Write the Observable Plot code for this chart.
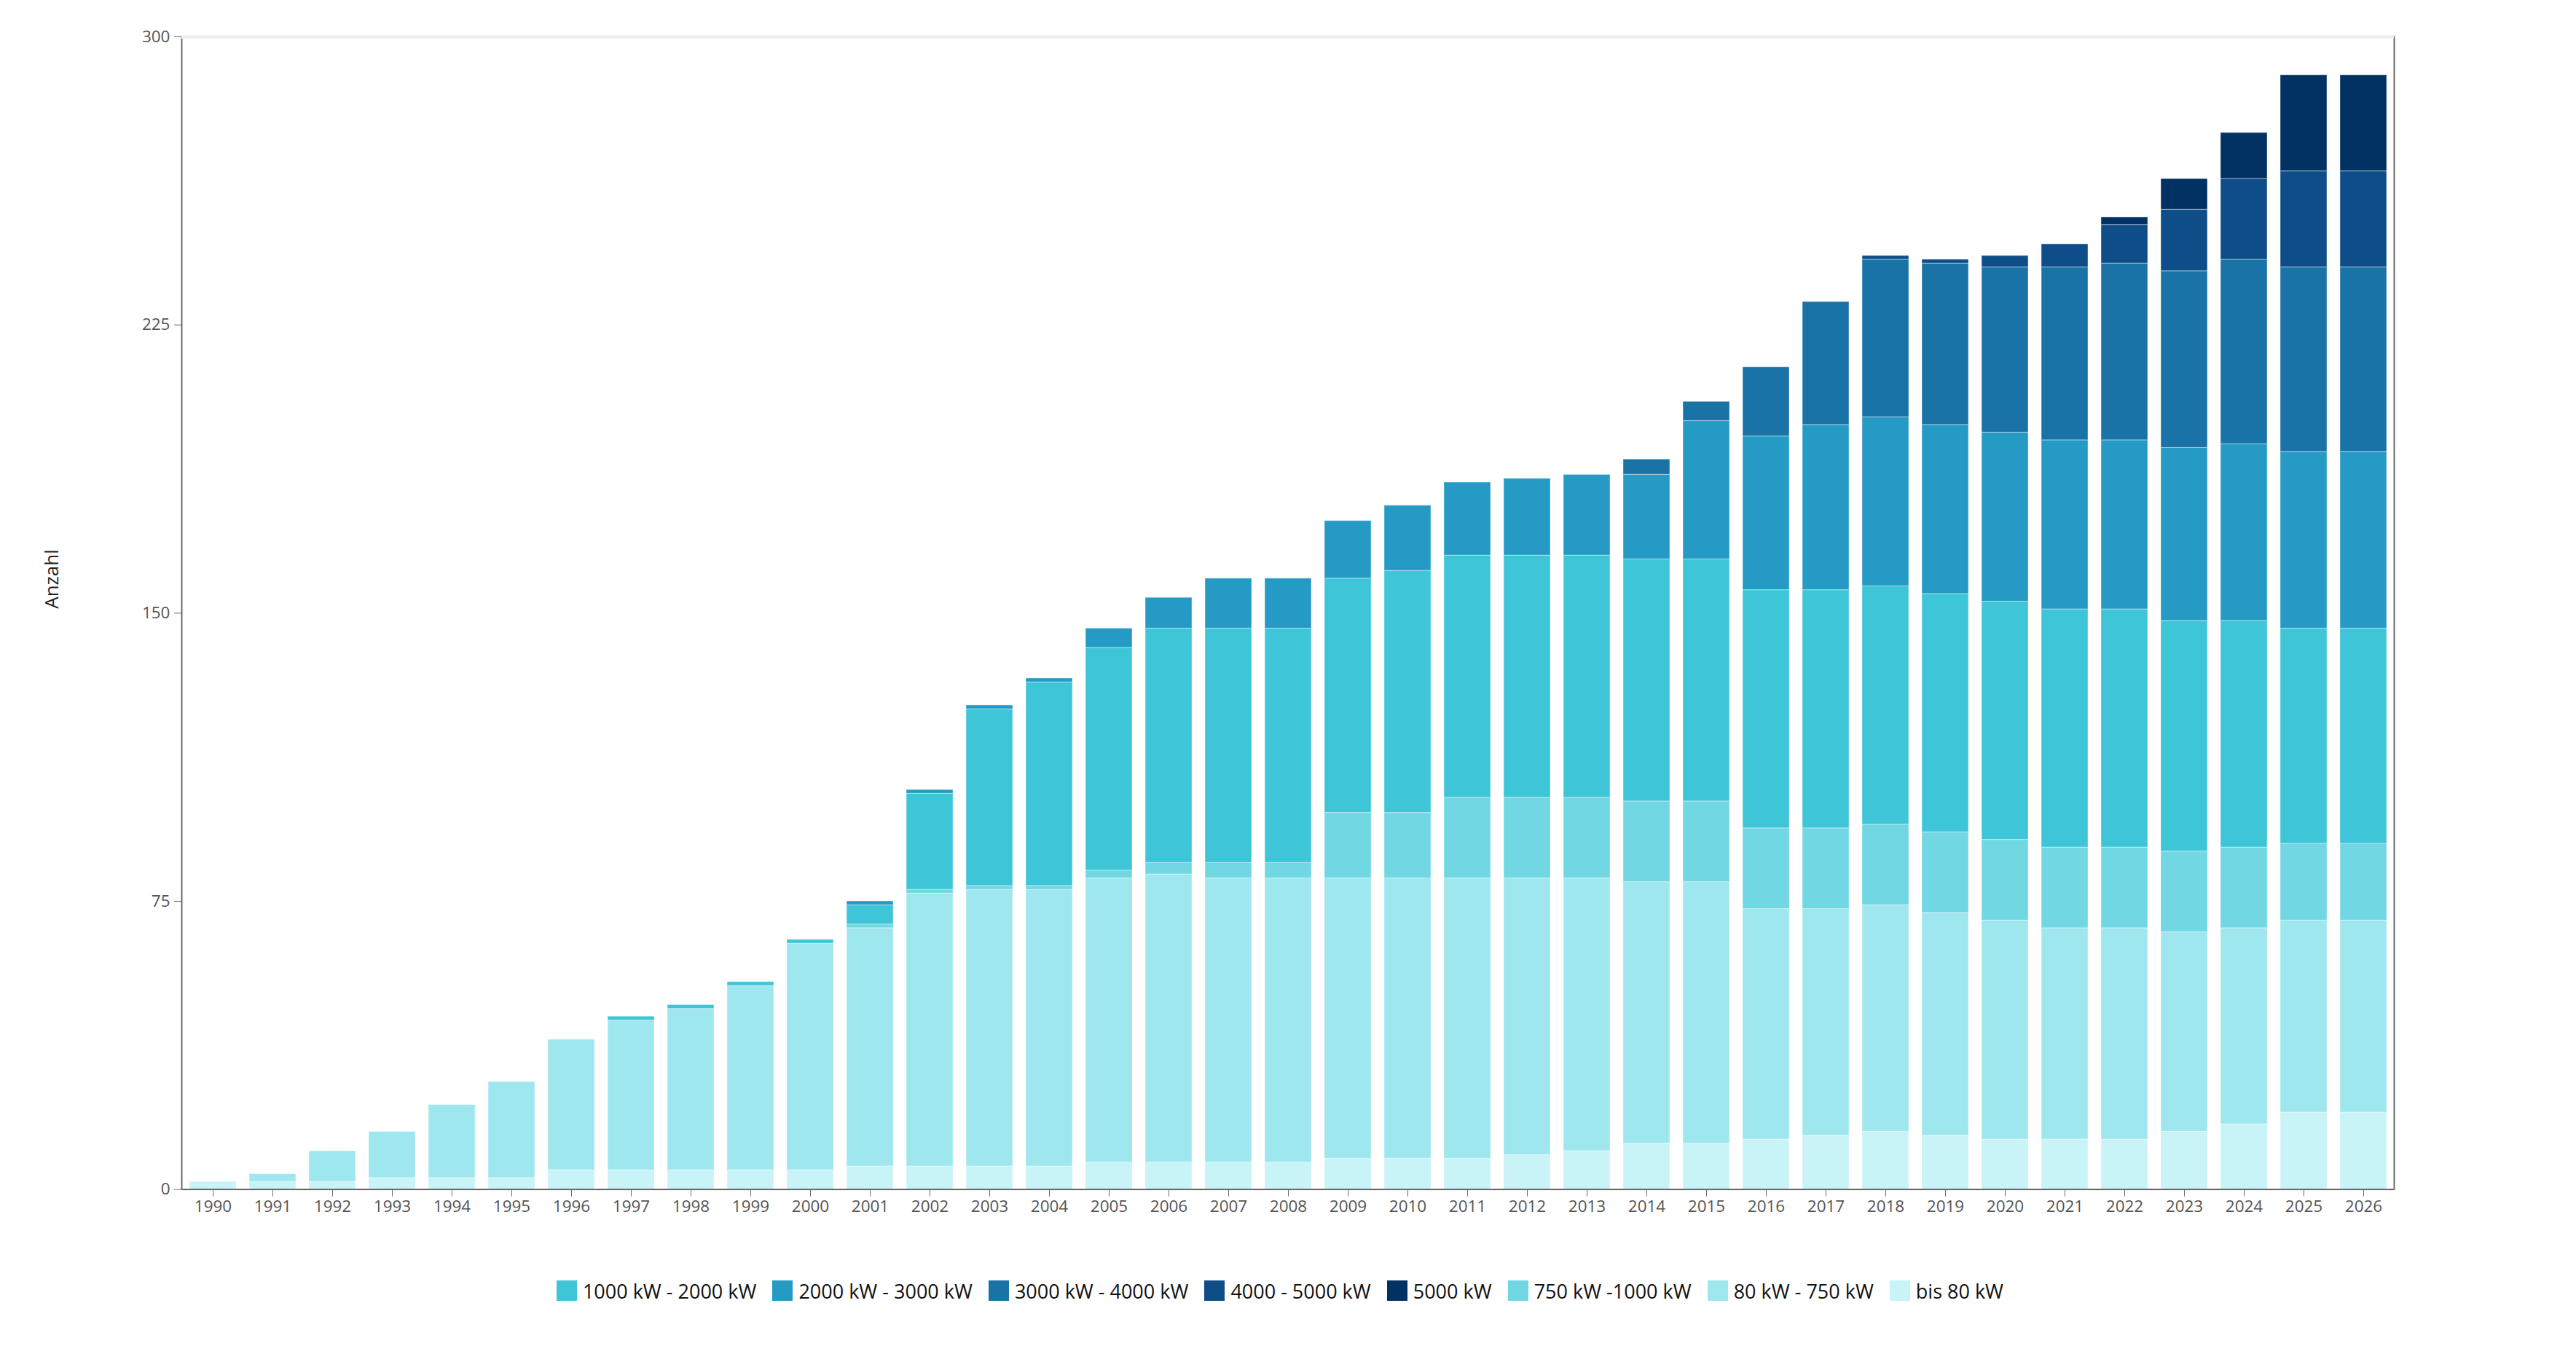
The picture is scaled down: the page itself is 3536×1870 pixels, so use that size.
<!DOCTYPE html>
<html>
<head>
<meta charset="utf-8">
<script src="https://cdn.jsdelivr.net/npm/d3@7"></script>
<script src="https://cdn.jsdelivr.net/npm/@observablehq/plot@0.6"></script>
<style>
  body { margin: 0; background: #fff; font-family: "Open Sans", sans-serif; }
  #wrap { position: relative; width: 3536px; height: 1870px; overflow: hidden; }
  #chart svg { display: block; }
  #ylabel { position: absolute; left: 70px; top: 795px; transform: translate(-50%, -50%) rotate(-90deg);
            font-size: 26px; color: #222; white-space: nowrap; }
  #legend { position: absolute; top: 1754px; left: 0; width: 3536px; display: flex; justify-content: center;
            align-items: center; height: 36px; font-size: 27px; color: #111; box-sizing: border-box; padding-right: 22px; }
  .item { display: flex; align-items: center; margin: 0 11px; }
  .sw { width: 28px; height: 28px; margin-right: 8px; }
</style>
</head>
<body>
<div id="wrap">
  <div id="chart"></div>
  <div id="ylabel">Anzahl</div>
  <div id="legend"></div>
</div>
<script>
const years = ["1990","1991","1992","1993","1994","1995","1996","1997","1998","1999",
  "2000","2001","2002","2003","2004","2005","2006","2007","2008","2009",
  "2010","2011","2012","2013","2014","2015","2016","2017","2018","2019",
  "2020","2021","2022","2023","2024","2025","2026"];

// series, bottom to top of each stack
const bis80     = [2,2,2,3,3,3,5,5,5,5, 5,6,6,6,6,7,7,7,7,8, 8,8,9,10,12,12,13,14,15,14, 13,13,13,15,17,20,20];
const kw80_750  = [0,2,8,12,19,25,34,39,42,48, 59,62,71,72,72,74,75,74,74,73, 73,73,72,71,68,68,60,59,59,58, 57,55,55,52,51,50,50];
const kw750_1000= [0,0,0,0,0,0,0,0,0,0, 0,1,1,1,1,2,3,4,4,17, 17,21,21,21,21,21,21,21,21,21, 21,21,21,21,21,20,20];
const kw1000_2000=[0,0,0,0,0,0,0,1,1,1, 1,5,25,46,53,58,61,61,61,61, 63,63,63,63,63,63,62,62,62,62, 62,62,62,60,59,56,56];
const kw2000_3000=[0,0,0,0,0,0,0,0,0,0, 0,1,1,1,1,5,8,13,13,15, 17,19,20,21,22,36,40,43,44,44, 44,44,44,45,46,46,46];
const kw3000_4000=[0,0,0,0,0,0,0,0,0,0, 0,0,0,0,0,0,0,0,0,0, 0,0,0,0,4,5,18,32,41,42, 43,45,46,46,48,48,48];
const kw4000_5000=[0,0,0,0,0,0,0,0,0,0, 0,0,0,0,0,0,0,0,0,0, 0,0,0,0,0,0,0,0,1,1, 3,6,10,16,21,25,25];
const kw5000    = [0,0,0,0,0,0,0,0,0,0, 0,0,0,0,0,0,0,0,0,0, 0,0,0,0,0,0,0,0,0,0, 0,0,2,8,12,25,25];

const seriesNames = ["bis 80 kW","80 kW - 750 kW","750 kW -1000 kW","1000 kW - 2000 kW",
  "2000 kW - 3000 kW","3000 kW - 4000 kW","4000 - 5000 kW","5000 kW"];
const seriesValues = [bis80, kw80_750, kw750_1000, kw1000_2000, kw2000_3000, kw3000_4000, kw4000_5000, kw5000];
const seriesColors = ["#c8f3f7","#9fe7ee","#70d7e3","#3ec5d8","#259ac5","#1a73a7","#0f4d89","#023163"];
const legendOrder = ["1000 kW - 2000 kW","2000 kW - 3000 kW","3000 kW - 4000 kW","4000 - 5000 kW",
  "5000 kW","750 kW -1000 kW","80 kW - 750 kW","bis 80 kW"];
const yTicks = [0, 75, 150, 225, 300];

const data = [];
seriesNames.forEach((s, si) => {
  years.forEach((y, yi) => {
    data.push({year: y, series: s, value: seriesValues[si][yi]});
  });
});

const H = 1720;
const chart = Plot.plot({
  width: 3536,
  height: H,
  marginTop: 50,
  marginBottom: H - 1632.6,
  marginLeft: 249,
  marginRight: 250,
  style: {fontFamily: "'Open Sans', sans-serif", background: "#fff"},
  x: {domain: years, paddingInner: 0.22, paddingOuter: 0.11, label: null},
  y: {domain: [0, 300], label: null},
  color: {domain: seriesNames, range: seriesColors},
  marks: [
    Plot.frame({stroke: "#6b6b6b", strokeWidth: 2}),
    Plot.ruleY([300], {stroke: "#efefef", strokeWidth: 5}),
    Plot.barY(data, {x: "year", y: "value", fill: "series", order: null,
      stroke: "#ffffff", strokeOpacity: 0.35, strokeWidth: 1.2}),
    Plot.axisX({tickSize: 10, tickPadding: 5, fontSize: 22.5, color: "#555", stroke: "#6b6b6b", label: null}),
    Plot.axisY({ticks: yTicks, tickSize: 10, tickPadding: 6, fontSize: 22.5, color: "#555", stroke: "#6b6b6b", label: null}),
    Plot.ruleY([0], {stroke: "#6b6b6b", strokeWidth: 2})
  ]
});
document.getElementById("chart").appendChild(chart);

const legend = document.getElementById("legend");
legendOrder.forEach(name => {
  const i = seriesNames.indexOf(name);
  const item = document.createElement("div");
  item.className = "item";
  const sw = document.createElement("div");
  sw.className = "sw";
  sw.style.background = seriesColors[i];
  const t = document.createElement("span");
  t.textContent = name;
  item.appendChild(sw);
  item.appendChild(t);
  legend.appendChild(item);
});
</script>
</body>
</html>
